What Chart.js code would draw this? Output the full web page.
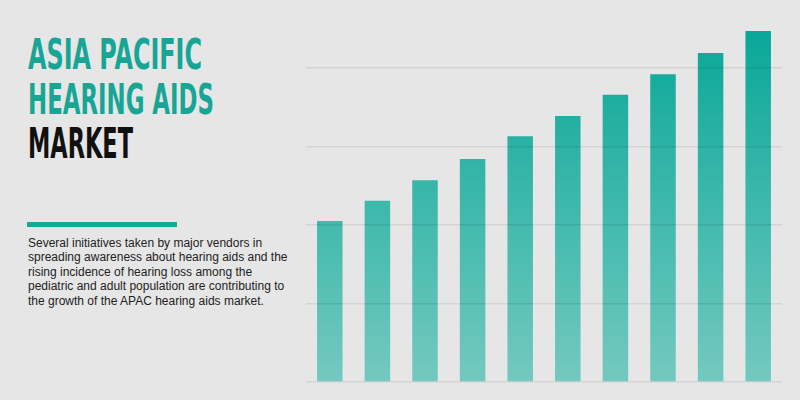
<!DOCTYPE html>
<html lang="en">
<head>
    <meta charset="UTF-8">
    <title>Asia Pacific Hearing Aids Market</title>
    <style>
        html, body {
            margin: 0;
            padding: 0;
        }
        body {
            width: 800px;
            height: 400px;
            background: #e6e6e6;
            position: relative;
            overflow: hidden;
            font-family: "Liberation Sans", Arial, sans-serif;
        }
        .title {
            position: absolute;
            left: 28px;
            top: 32px;
            font-family: "DejaVu Sans Condensed", sans-serif;
            font-weight: bold;
            font-size: 43px;
            line-height: 44.5px;
            white-space: nowrap;
        }
        .title span {
            display: block;
            width: max-content;
            transform-origin: left center;
        }
        .teal { color: #17a596; }
        .dark { color: #111111; }
        .rule {
            position: absolute;
            left: 27px;
            top: 222px;
            width: 150px;
            height: 5px;
            background: #1aa797;
        }
        .desc {
            position: absolute;
            left: 28px;
            top: 236px;
            width: 270px;
            font-size: 12px;
            line-height: 14.4px;
            color: #222222;
        }
        #chart-box {
            position: absolute;
            left: 306px;
            top: 20px;
            width: 476px;
            height: 370px;
        }
    </style>
</head>
<body>
    <div class="title">
        <span class="teal" id="t1">ASIA PACIFIC</span>
        <span class="teal" id="t2">HEARING AIDS</span>
        <span class="dark" id="t3">MARKET</span>
    </div>
    <div class="rule"></div>
    <div class="desc">Several initiatives taken by major vendors in<br>spreading awareness about hearing aids and the<br>rising incidence of hearing loss among the<br>pediatric and adult population are contributing to<br>the growth of the APAC hearing aids market.</div>

    <div id="chart-box">
        <canvas id="marketChart"></canvas>
    </div>

    <script src="https://cdn.jsdelivr.net/npm/chart.js"></script>
    <script>
        // valores (sem rótulos visíveis)
        const categories = ["1", "2", "3", "4", "5", "6", "7", "8", "9", "10"];
        const marketValues = [2.05, 2.31, 2.57, 2.84, 3.13, 3.39, 3.66, 3.92, 4.19, 4.47];
        const yTicks = [0, 1, 2, 3, 4];

        // comprime cada linha do título para a largura da referência
        const titleWidths = { t1: 174, t2: 186, t3: 105 };
        Object.keys(titleWidths).forEach(function (id) {
            const el = document.getElementById(id);
            const w = el.getBoundingClientRect().width;
            el.style.transform = "scaleX(" + (titleWidths[id] / w) + ")";
        });

        function barGradient(context) {
            const chart = context.chart;
            const area = chart.chartArea;
            if (!area) return "#3ab7aa";
            const g = chart.ctx.createLinearGradient(0, area.top, 0, area.bottom);
            g.addColorStop(0, "#08a798");
            g.addColorStop(1, "#74c9bf");
            return g;
        }

        const ctx = document.getElementById("marketChart").getContext("2d");
        new Chart(ctx, {
            type: "bar",
            data: {
                labels: categories,
                datasets: [{
                    data: marketValues,
                    backgroundColor: barGradient,
                    borderWidth: 0,
                    categoryPercentage: 1.0,
                    barPercentage: 0.536
                }]
            },
            options: {
                responsive: true,
                maintainAspectRatio: false,
                animation: false,
                layout: { padding: { top: 8.75, bottom: 8, left: 0, right: 0 } },
                plugins: {
                    legend: { display: false },
                    tooltip: { enabled: false }
                },
                scales: {
                    x: { display: false },
                    y: {
                        min: 0,
                        max: 4.5,
                        afterBuildTicks: function (scale) {
                            scale.ticks = yTicks.map(function (v) { return { value: v }; });
                        },
                        ticks: { display: false },
                        border: { display: false },
                        grid: {
                            drawTicks: false,
                            color: "rgba(0,0,0,0.08)",
                            lineWidth: 1.5,
                            z: 1
                        }
                    }
                }
            }
        });
    </script>
</body>
</html>
